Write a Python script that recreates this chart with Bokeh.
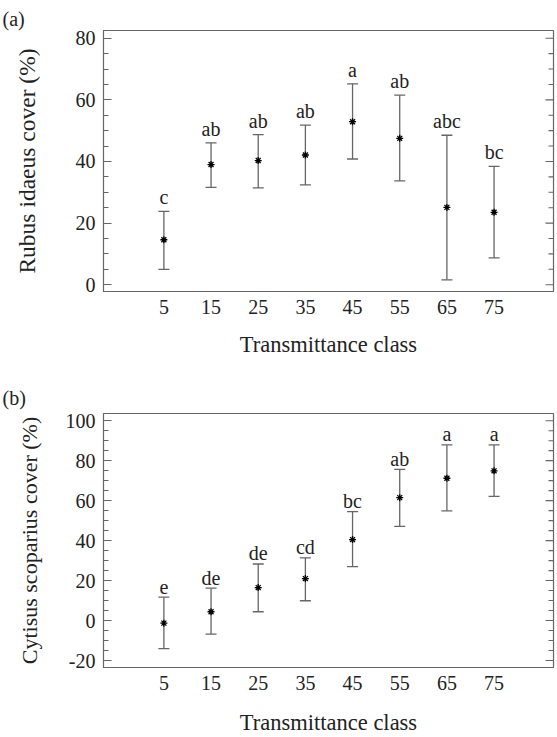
from bokeh.plotting import figure
from bokeh.models import (ColumnDataSource, Whisker, TeeHead, FixedTicker,
                          Range1d)
from bokeh.layouts import column
from bokeh.embed import file_html
from bokeh.resources import INLINE
from bokeh.core.properties import value

classes = [5, 15, 25, 35, 45, 55, 65, 75]
class_labels = ["5", "15", "25", "35", "45", "55", "65", "75"]

rubus_mean = [14.6, 39.0, 40.3, 42.1, 52.9, 47.5, 25.1, 23.5]
rubus_upper = [23.8, 46.0, 48.7, 51.8, 65.2, 61.5, 48.5, 38.4]
rubus_lower = [5.0, 31.6, 31.4, 32.4, 40.8, 33.7, 1.6, 8.7]
rubus_letters = ["c", "ab", "ab", "ab", "a", "ab", "abc", "bc"]
rubus_ticks = [0, 20, 40, 60, 80]

cytisus_mean = [-1.3, 4.4, 16.5, 21.0, 40.5, 61.5, 71.2, 74.9]
cytisus_upper = [11.7, 16.2, 28.3, 31.4, 54.5, 75.6, 87.9, 87.9]
cytisus_lower = [-14.1, -6.8, 4.4, 9.9, 27.0, 47.1, 54.9, 62.1]
cytisus_letters = ["e", "de", "de", "cd", "bc", "ab", "a", "a"]
cytisus_ticks = [-20, 0, 20, 40, 60, 80, 100]

FONT = "Liberation Serif"
TXT = "#222222"
FRAME = "#666666"
BAR = "#666666"


def minor_of(ticks, step=5):
    lo, hi = ticks[0], ticks[-1]
    return [v for v in range(lo, hi + 1, step) if v not in ticks]


def panel(mean, upper, lower, letters, ticks, yr, ylabel, tag, h,
          b_top, b_bottom, ylab_standoff, xlab_standoff, letter_off, tag_standoff,
          ylab_size):
    xr = (-7.8, 87.6)
    p = figure(width=557, height=h, output_backend="svg", toolbar_location=None,
               x_range=Range1d(*xr), y_range=Range1d(*yr),
               min_border_left=103, min_border_right=4,
               min_border_top=b_top, min_border_bottom=b_bottom,
               background_fill_color="white", border_fill_color="white",
               title=tag)
    p.title.align = "left"
    p.title.offset = -101
    p.title.standoff = tag_standoff
    p.title.text_font = FONT
    p.title.text_font_size = "20px"
    p.title.text_font_style = "normal"
    p.title.text_color = TXT

    p.xgrid.visible = False
    p.ygrid.visible = False
    p.outline_line_color = FRAME
    p.outline_line_width = 1.2

    src = ColumnDataSource(dict(x=classes, m=mean, up=upper, lo=lower, t=letters))

    w = Whisker(base="x", upper="up", lower="lo", source=src,
                line_color=BAR, line_width=1.3,
                upper_head=TeeHead(size=11, line_color=BAR, line_width=1.3),
                lower_head=TeeHead(size=11, line_color=BAR, line_width=1.3))
    p.add_layout(w)
    p.scatter("x", "m", source=src, marker="asterisk", size=7,
              line_color="black", line_width=1.3)
    p.text("x", "up", text="t", source=src, text_font=value(FONT),
           text_font_size="20px", text_color=TXT, text_align="center",
           text_baseline="alphabetic", y_offset=-letter_off)

    # x axis
    xa = p.xaxis[0]
    xa.ticker = FixedTicker(ticks=classes)
    xa.major_label_overrides = {c: l for c, l in zip(classes, class_labels)}
    xa.major_tick_in = 0
    xa.major_tick_out = 0
    xa.minor_tick_in = 0
    xa.minor_tick_out = 0
    xa.axis_line_color = FRAME
    xa.major_label_text_font = FONT
    xa.major_label_text_font_size = "20px"
    xa.major_label_text_color = TXT
    xa.major_label_standoff = 8
    xa.axis_label = "Transmittance class"
    xa.axis_label_text_font = FONT
    xa.axis_label_text_font_size = "22.5px"
    xa.axis_label_text_font_style = "normal"
    xa.axis_label_text_color = TXT
    xa.axis_label_standoff = xlab_standoff

    # y axis
    minors = minor_of(ticks)
    ya = p.yaxis[0]
    ya.ticker = FixedTicker(ticks=ticks, minor_ticks=minors)
    ya.major_label_overrides = {t: str(t) for t in ticks}
    ya.major_tick_in = 8
    ya.major_tick_out = 0
    ya.minor_tick_in = 5
    ya.minor_tick_out = 0
    ya.major_tick_line_color = FRAME
    ya.minor_tick_line_color = FRAME
    ya.axis_line_color = FRAME
    ya.major_label_text_font = FONT
    ya.major_label_text_font_size = "20px"
    ya.major_label_text_color = TXT
    ya.major_label_standoff = 8
    ya.axis_label = ylabel
    ya.axis_label_text_font = FONT
    ya.axis_label_text_font_size = ylab_size
    ya.axis_label_text_font_style = "normal"
    ya.axis_label_text_color = TXT
    ya.axis_label_standoff = ylab_standoff

    # mirrored inward ticks on the right frame edge (clipped to frame)
    p.scatter([xr[1]] * len(ticks), ticks, marker="dash", size=16,
              line_color=FRAME, line_width=1.1)
    p.scatter([xr[1]] * len(minors), minors, marker="dash", size=10,
              line_color=FRAME, line_width=1.1)
    return p


pa = panel(rubus_mean, rubus_upper, rubus_lower, rubus_letters, rubus_ticks,
           (-2.2, 82.5), "Rubus idaeus cover (%)", "(a)", 368,
           30, 77, 33, 15, 14, 2, "23.5px")
pb = panel(cytisus_mean, cytisus_upper, cytisus_lower, cytisus_letters, cytisus_ticks,
           (-23.5, 103.6), "Cytisus scoparius cover (%)", "(b)", 369,
           45, 63, 21, 17, 10.5, 9, "22px")

layout = column(pa, pb, spacing=0)
open("out.html", "w").write(file_html(layout, INLINE))
